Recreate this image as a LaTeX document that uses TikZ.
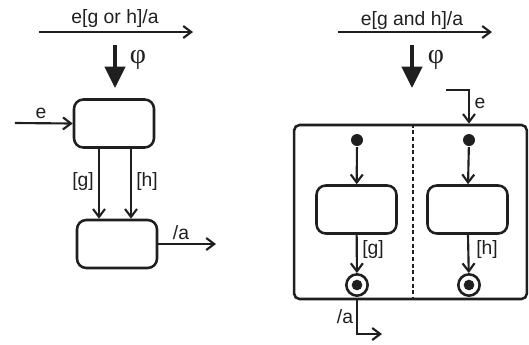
\documentclass[tikz,border=0pt]{standalone}
\usepackage{fontspec}
\setmainfont{Liberation Sans}
\newfontfamily\greekfont{Liberation Serif}
\usetikzlibrary{arrows.meta}
\begin{document}
\begin{tikzpicture}[x=0.75pt,y=-0.75pt,
  line width=1.6pt, draw=black!88, fill=black!88, text=black!88,
  every node/.style={font=\fontsize{14.5}{16}\selectfont, inner sep=0pt},
  flow/.style={draw=black!88, line width=1.6pt, -{Straight Barb[length=6pt,width=9pt,line width=1.6pt]}},
  statebox/.style={draw=black!88, line width=1.9pt, rounded corners=7pt, minimum width=60pt, minimum height=36pt},
  refine/.style={draw=black!88, line width=3pt, -{Triangle[length=16pt,width=15pt]}},
  greek/.style={font=\greekfont\fontsize{21}{23}\selectfont},
  initdot/.style={circle, fill=black!88, minimum size=9pt},
  finalring/.style={circle, draw=black!88, line width=1.9pt, minimum size=16pt},
  finaldot/.style={circle, fill=black!88, minimum size=8pt},
]
\useasboundingbox (0,0) rectangle (529,344);

% ---------- left: OR of guards ----------
\coordinate (t1a) at (39,32);
\coordinate (t1b) at (193,32);
\draw[flow] (t1a) -- (t1b);
\node (t1lbl) at (115,18.5) {e[g or h]/a};

\coordinate (r1a) at (115,45);
\coordinate (r1b) at (115,88);
\draw[refine] (r1a) -- (r1b);
\node[greek] (phi1) at (138,60) {φ};

\node[statebox] (s1) at (114,123.5) {};
\node[statebox] (s2) at (117,244) {};

\coordinate (ein) at (15,123);
\draw[flow] (ein) -- (s1.west);
\node (elbl1) at (41,113) {e};

\coordinate (gx) at (99,0);
\coordinate (hx) at (131,0);
\draw[flow] (s1.south -| gx) -- (s2.north -| gx);
\draw[flow] (s1.south -| hx) -- (s2.north -| hx);
\node (glbl1) at (83,181) {[g]};
\node (hlbl1) at (147,181) {[h]};

\coordinate (aout) at (216,0);
\draw[flow] (s2.east) -- (s2.east -| aout);
\node (albl1) at (181,233) {/a};

% ---------- right: AND of guards ----------
\coordinate (t2a) at (338,32);
\coordinate (t2b) at (492,32);
\draw[flow] (t2a) -- (t2b);
\node (t2lbl) at (412,20) {e[g and h]/a};

\coordinate (r2a) at (412,45);
\coordinate (r2b) at (412,88);
\draw[refine] (r2a) -- (r2b);
\node[greek] (phi2) at (436,60) {φ};

\node[draw=black!88, line width=1.9pt, rounded corners=4pt,
      minimum width=174.5pt, minimum height=130.5pt] (cont) at (410.5,212) {};

\coordinate (dx) at (413,0);
\draw[dashed, dash pattern=on 3pt off 2pt, line width=1.6pt] (cont.north -| dx) -- (cont.south -| dx);

% left region
\node[initdot] (i1) at (357,140) {};
\node[statebox] (b1) at (356.5,209.5) {};
\node[finalring] (f1) at (357,285) {};
\node[finaldot] (f1c) at (f1) {};
\draw[flow] (i1) -- (b1);
\draw[flow] (b1) -- (f1);
\node (glbl2) at (373,249) {[g]};

% right region
\node[initdot] (i2) at (469,140) {};
\node[statebox] (b2) at (467.5,209.5) {};
\node[finalring] (f2) at (469,285) {};
\node[finaldot] (f2c) at (f2) {};
\draw[flow] (i2) -- (b2);
\draw[flow] (b2) -- (f2);
\node (hlbl2) at (487,249) {[h]};

% incoming e
\coordinate (e0) at (446,90);
\draw[flow] (e0) -| (cont.north -| i2);
\node (elbl2) at (480,103) {e};

% outgoing /a
\coordinate (aend) at (382,334);
\draw[flow] (cont.south -| f1) |- (aend);
\node (albl2) at (345,317) {/a};
\end{tikzpicture}
\end{document}
